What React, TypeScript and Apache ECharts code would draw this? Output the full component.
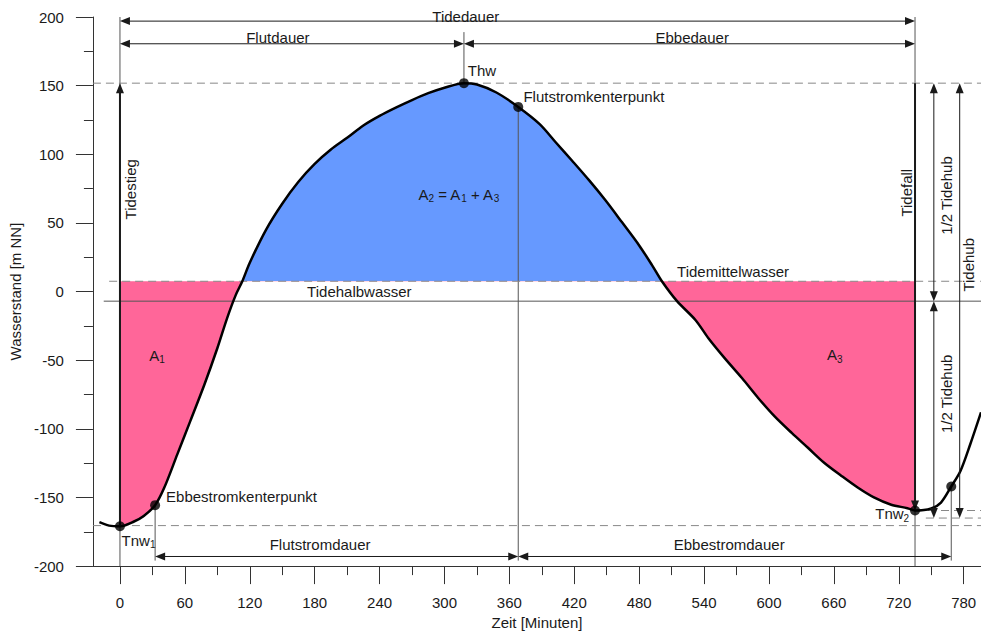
import React, { useEffect, useRef } from 'react';
import * as echarts from 'echarts';

const FONT = "'Liberation Sans', Arial, Helvetica, sans-serif";
const PINK = '#ff6699';
const BLUE = '#6699ff';
const INK = '#1a1a1a';

// Water level over one tide, time in minutes after low water
const tideMinutes = [
  -19, -10, 0, 13, 22, 32.5, 41, 53, 65, 78, 90, 99, 107, 113, 120, 135, 150, 165, 180, 195,
  210, 225, 240, 255, 270, 285, 300, 318, 330, 348, 368.2, 388, 403, 418, 434, 449, 464, 480,
  492, 501, 515, 532, 544, 559, 575, 590, 605, 621, 636, 651, 667, 682, 697, 713, 728, 735,
  750, 759, 768.5, 777, 786, 796,
];
const tideLevels = [
  -168, -170.5, -171, -167.5, -163.5, -155.6, -142.8, -118.6, -94.4, -67.9, -41.3, -19.5, -2.6,
  7.3, 21, 45, 64, 80, 93, 103.5, 112, 121, 128, 134, 139.5, 144.5, 148.5, 151.8, 150.8, 145,
  134.5, 122, 108.6, 95.3, 80.8, 66.3, 50.6, 33.6, 19.1, 7.5, -7, -20.7, -34, -48.5, -63, -77.5,
  -90.8, -103, -113.8, -124.7, -134.3, -142.8, -150, -155.3, -157.8, -159.5, -158, -153.7, -142,
  -130.7, -111.4, -88,
];

// Characteristic times [min]
const tTnw1 = 0;
const tEbbKenter1 = 32.5;
const tThw = 318;
const tFlutKenter = 368.2;
const tTnw2 = 735;
const tEbbKenter2 = 768.5;
const tHalfHub = 752.4;
const tHub = 776.3;

// Characteristic levels
const levelThw = 151.8;
const levelTnw1 = -171;
const levelTnw2 = -159.5;
const levelTnwMean = -165;
const levelTmw = 7.5;
const levelThalb = -7;
const levelFlutKenter = 134.5;
const levelEbbKenter1 = -155.6;
const levelEbbKenter2 = -142;

// Key points on the curve
const keyMinutes = [tTnw1, tEbbKenter1, tThw, tFlutKenter, tTnw2, tEbbKenter2];
const keyLevels = [levelTnw1, levelEbbKenter1, levelThw, levelFlutKenter, levelTnw2, levelEbbKenter2];

// Axis ticks
const xMajorTicks = [0, 60, 120, 180, 240, 300, 360, 420, 480, 540, 600, 660, 720, 780];
const xMinorTicks = [30, 90, 150, 210, 270, 330, 390, 450, 510, 570, 630, 690, 750];
const X_MIN = -25;
const X_MAX = 796;
const Y_MIN = -200;
const Y_MAX = 200;

// Duration bars (levels of the dimension lines)
const levelTideDur = 197;
const levelFlutDur = 180.5;
const levelStromDur = -193;

// Thin reference lines: [t1, v1, t2, v2]
const solidGuides = [
  [tTnw1, Y_MIN, tTnw1, Y_MAX],
  [tThw, levelThw, tThw, 189],
  [tFlutKenter, levelFlutKenter, tFlutKenter, -196],
  [tEbbKenter1, levelEbbKenter1, tEbbKenter1, -196],
  [tTnw2, Y_MIN, tTnw2, Y_MAX],
  [tEbbKenter2, levelEbbKenter2, tEbbKenter2, -196],
  [-15, levelThalb, X_MAX, levelThalb],
];
const dashedGuides = [
  [X_MIN, levelThw, X_MAX, levelThw],
  [-10, levelTmw, X_MAX, levelTmw],
  [X_MIN, -170.5, X_MAX, -170.5],
  [tTnw2, levelTnw2, X_MAX, levelTnw2],
  [745, levelTnwMean, X_MAX, levelTnwMean],
];

// Dimension arrows: [t1, v1, t2, v2, head at start, head at end]
const dimensionArrows = [
  [tTnw1, levelTideDur, tTnw2, levelTideDur, 1, 1],
  [tTnw1, levelFlutDur, tThw, levelFlutDur, 1, 1],
  [tThw, levelFlutDur, tTnw2, levelFlutDur, 1, 1],
  [tEbbKenter1, levelStromDur, tFlutKenter, levelStromDur, 1, 1],
  [tFlutKenter, levelStromDur, tEbbKenter2, levelStromDur, 1, 1],
  [tHalfHub, levelThalb, tHalfHub, levelThw, 1, 1],
  [tHalfHub, levelThalb, tHalfHub, levelTnwMean, 1, 1],
  [tHub, levelTnwMean, tHub, levelThw, 1, 1],
];
const riseFallArrows = [
  [tTnw1, levelTnw1, tTnw1, levelThw, 0, 1],
  [tTnw2, levelThw, tTnw2, levelTnw2, 0, 1],
];

// Annotation texts
const noteTexts = [
  'Tidedauer', 'Flutdauer', 'Ebbedauer', 'Thw', 'Flutstromkenterpunkt', 'Tidestieg', 'Tidefall',
  '1/2 Tidehub', '1/2 Tidehub', 'Tidehub', 'Tidemittelwasser', 'Tidehalbwasser',
  'A{s|2} = A{s|1} + A{s|3}', 'A{s|1}', 'A{s|3}', 'Ebbestromkenterpunkt', 'Tnw{s|1}', 'Tnw{s|2}',
  'Flutstromdauer', 'Ebbestromdauer',
];
const noteAnchors = [
  [319.7, 200.5], [146, 185.2], [529, 185], [321.5, 161], [373, 142.4], [9.3, 74.5], [727, 72],
  [764.4, 70], [764.4, -74.5], [784, 19.5], [515, 14.8], [173, 0],
  [276, 71], [27, -46.5], [653.6, -46], [42.6, -149.6], [1.5, -181], [729.6, -162],
  [185, -184.4], [563.2, -184.4],
];
const noteAlign = [
  'center', 'center', 'center', 'left', 'left', 'center', 'center',
  'center', 'center', 'center', 'left', 'left',
  'left', 'left', 'left', 'left', 'left', 'right',
  'center', 'center',
];
const noteVertical = [0, 0, 0, 0, 0, 1, 1, 1, 1, 1, 0, 0, 0, 0, 0, 0, 0, 0, 0, 0];

const curveData = tideMinutes.map((t, i) => [t, tideLevels[i]]);
const fillData = curveData.filter(([t]) => t >= tTnw1 && t <= tTnw2);
const keyData = keyMinutes.map((t, i) => [t, keyLevels[i]]);

function guideRenderer(dash: number[] | null, color: string) {
  return (_params: any, api: any) => {
    const a = api.coord([api.value(0), api.value(1)]);
    const b = api.coord([api.value(2), api.value(3)]);
    return {
      type: 'line',
      shape: { x1: a[0], y1: a[1], x2: b[0], y2: b[1] },
      style: { stroke: color, lineWidth: 1, lineDash: dash || undefined },
    };
  };
}

function arrowRenderer(lineWidth: number) {
  const L = 10;
  const W = 4;
  return (_params: any, api: any) => {
    const a = api.coord([api.value(0), api.value(1)]);
    const b = api.coord([api.value(2), api.value(3)]);
    const hs = api.value(4);
    const he = api.value(5);
    const dx = b[0] - a[0];
    const dy = b[1] - a[1];
    const len = Math.hypot(dx, dy) || 1;
    const ux = dx / len;
    const uy = dy / len;
    const s = hs ? [a[0] + ux * (L - 1), a[1] + uy * (L - 1)] : a;
    const e = he ? [b[0] - ux * (L - 1), b[1] - uy * (L - 1)] : b;
    const head = (tip: number[], px: number, py: number) => ({
      type: 'polygon',
      shape: {
        points: [
          [tip[0], tip[1]],
          [tip[0] - px * L - py * W, tip[1] - py * L + px * W],
          [tip[0] - px * L + py * W, tip[1] - py * L - px * W],
        ],
      },
      style: { fill: INK },
    });
    const children: any[] = [
      {
        type: 'line',
        shape: { x1: s[0], y1: s[1], x2: e[0], y2: e[1] },
        style: { stroke: INK, lineWidth },
      },
    ];
    if (hs) children.push(head(a, -ux, -uy));
    if (he) children.push(head(b, ux, uy));
    return { type: 'group', children };
  };
}

function noteRenderer(params: any, api: any) {
  const i = params.dataIndex;
  const p = api.coord([api.value(0), api.value(1)]);
  return {
    type: 'text',
    x: p[0],
    y: p[1],
    rotation: noteVertical[i] ? Math.PI / 2 : 0,
    style: {
      text: noteTexts[i],
      align: noteAlign[i],
      textAlign: noteAlign[i],
      verticalAlign: 'middle',
      textVerticalAlign: 'middle',
      fontSize: 15,
      fontFamily: FONT,
      fill: INK,
      rich: {
        s: {
          fontSize: 10,
          fontFamily: FONT,
          fill: INK,
          verticalAlign: 'bottom',
          padding: [9, 0, 0, 0],
        },
      },
    },
  };
}

export default function App() {
  const ref = useRef<HTMLDivElement>(null);

  useEffect(() => {
    if (!ref.current) return;
    const chart = echarts.init(ref.current, undefined, { renderer: 'svg' });
    const axisColor = '#333';
    const labelStyle = { fontSize: 15, fontFamily: FONT, color: INK };

    chart.setOption({
      animation: false,
      backgroundColor: '#fff',
      textStyle: { fontFamily: FONT },
      grid: { left: 89, right: 0, top: 17, bottom: 66, containLabel: false },
      xAxis: [
        {
          type: 'value',
          min: X_MIN,
          max: X_MAX,
          position: 'bottom',
          name: 'Zeit [Minuten]',
          nameLocation: 'middle',
          nameGap: 46,
          nameTextStyle: labelStyle,
          axisLine: { show: true, onZero: false, lineStyle: { color: axisColor, width: 1 } },
          axisTick: { show: true, customValues: xMajorTicks, length: 18, lineStyle: { color: axisColor } },
          axisLabel: { show: true, customValues: xMajorTicks, margin: 29, ...labelStyle },
          splitLine: { show: false },
        },
        {
          type: 'value',
          min: X_MIN,
          max: X_MAX,
          position: 'bottom',
          offset: 0,
          axisLine: { show: false, onZero: false },
          axisTick: { show: true, customValues: xMinorTicks, length: 9, lineStyle: { color: axisColor } },
          axisLabel: { show: false },
          splitLine: { show: false },
        },
      ],
      yAxis: {
        type: 'value',
        min: Y_MIN,
        max: Y_MAX,
        interval: 50,
        name: 'Wasserstand [m NN]',
        nameLocation: 'middle',
        nameGap: 63,
        nameTextStyle: labelStyle,
        axisLine: { show: true, onZero: false, lineStyle: { color: axisColor, width: 1 } },
        axisTick: { show: true, length: 17, lineStyle: { color: axisColor } },
        minorTick: { show: true, splitNumber: 2, length: 9, lineStyle: { color: axisColor } },
        axisLabel: { margin: 29, ...labelStyle },
        splitLine: { show: false },
        minorSplitLine: { show: false },
      },
      visualMap: [
        {
          type: 'piecewise',
          show: false,
          dimension: 1,
          seriesIndex: 0,
          pieces: [
            { gte: -400, lt: levelTmw, color: PINK },
            { gte: levelTmw, lte: 400, color: BLUE },
          ],
        },
      ],
      series: [
        {
          type: 'line',
          data: fillData,
          smooth: 0.3,
          symbol: 'none',
          silent: true,
          z: 1,
          lineStyle: { width: 0, opacity: 0 },
          areaStyle: { origin: levelTmw, opacity: 1 },
        },
        {
          type: 'custom',
          data: solidGuides,
          encode: { x: [0, 2], y: [1, 3] },
          renderItem: guideRenderer(null, '#555'),
          silent: true,
          clip: false,
          z: 2,
        },
        {
          type: 'custom',
          data: dashedGuides,
          encode: { x: [0, 2], y: [1, 3] },
          renderItem: guideRenderer([8, 5], '#888'),
          silent: true,
          clip: false,
          z: 2,
        },
        {
          type: 'line',
          data: curveData,
          smooth: 0.3,
          symbol: 'none',
          silent: true,
          z: 3,
          lineStyle: { color: '#000', width: 2.5 },
        },
        {
          type: 'custom',
          data: dimensionArrows,
          encode: { x: [0, 2], y: [1, 3] },
          renderItem: arrowRenderer(1),
          silent: true,
          clip: false,
          z: 4,
        },
        {
          type: 'custom',
          data: riseFallArrows,
          encode: { x: [0, 2], y: [1, 3] },
          renderItem: arrowRenderer(2),
          silent: true,
          clip: false,
          z: 4,
        },
        {
          type: 'scatter',
          data: keyData,
          symbol: 'circle',
          symbolSize: 10,
          itemStyle: { color: '#000' },
          silent: true,
          z: 5,
        },
        {
          type: 'custom',
          data: noteAnchors,
          encode: { x: 0, y: 1 },
          renderItem: noteRenderer,
          silent: true,
          clip: false,
          z: 6,
        },
      ],
    });

    return () => chart.dispose();
  }, []);

  return (
    <div
      ref={ref}
      style={{ position: 'absolute', left: 0, top: 0, width: 981, height: 635, background: '#fff' }}
    />
  );
}
